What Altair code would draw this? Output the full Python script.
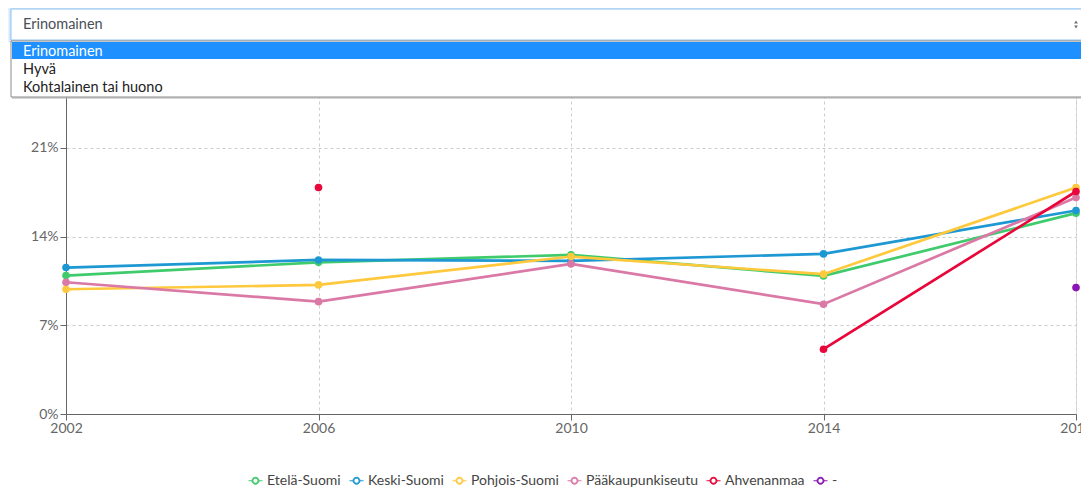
import altair as alt
import pandas as pd
import numpy as np

# ---- data (percent values) ----
years = [2002, 2006, 2010, 2014, 2018]
series_names = ["Etelä-Suomi", "Keski-Suomi", "Pohjois-Suomi", "Pääkaupunkiseutu", "Ahvenanmaa", "-"]
series_colors = ["#3fcb6c", "#1d98d3", "#ffc93d", "#db79a6", "#e8063a", "#8c16b5"]
etela = [10.92, 11.96, 12.55, 10.89, 15.84]
keski = [11.55, 12.15, 12.08, 12.63, 16.05]
pohjois = [9.84, 10.18, 12.42, 11.03, 17.86]
paakaupunkiseutu = [10.39, 8.86, 11.84, 8.66, 17.07]
ahvenanmaa = [None, 17.86, None, 5.11, 17.55]
viiva = [None, None, None, None, 9.97]
y_ticks = [0, 7, 14, 21, 28]

dropdown_selected = "Erinomainen"
dropdown_options = ["Erinomainen", "Hyvä", "Kohtalainen tai huono"]

all_series = [etela, keski, pohjois, paakaupunkiseutu, ahvenanmaa, viiva]
rows = []
for name, vals in zip(series_names, all_series):
    for yr, v in zip(years, vals):
        rows.append({"vuosi": yr, "alue": name, "piste": name,
                     "osuus": np.nan if v is None else v})
df = pd.DataFrame(rows)

FONT = "Lato"
W, H = 1010, 355

x_enc = alt.X("vuosi:Q", scale=alt.Scale(domain=[2002, 2018], nice=False, zero=False),
              axis=alt.Axis(values=years, format="d", title=None, grid=True,
                            gridDash=[3, 3], gridColor="#cccccc", tickSize=6,
                            labelPadding=1, labelFontSize=14, labelColor="#666666",
                            labelFont=FONT, domainColor="#666666", tickColor="#666666",
                            labelFlush=False))
y_enc = alt.Y("osuus:Q", scale=alt.Scale(domain=[0, 28], nice=False),
              axis=alt.Axis(values=y_ticks, labelExpr="datum.value + '%'", title=None,
                            grid=True, gridDash=[3, 3], gridColor="#cccccc", tickSize=6,
                            labelPadding=2, labelFontSize=14, labelColor="#666666",
                            labelFont=FONT, domainColor="#666666", tickColor="#666666"))

# legend icon: short line with a hollow ring (annulus) in the middle
legend_path = ("M-1,0H-0.5M0.5,0H1"
               "M-0.5,0A0.5,0.5,0,1,1,0.5,0A0.5,0.5,0,1,1,-0.5,0Z"
               "M-0.36,0A0.36,0.36,0,1,0,0.36,0A0.36,0.36,0,1,0,-0.36,0Z")

lines = alt.Chart(df).mark_line(strokeWidth=2.7).encode(
    x=x_enc, y=y_enc,
    color=alt.Color("alue:N", sort=series_names,
                    scale=alt.Scale(domain=series_names, range=series_colors),
                    legend=alt.Legend(title=None, orient="none", legendX=182, legendY=414,
                                      direction="horizontal", columns=6,
                                      symbolType=legend_path, symbolSize=196,
                                      symbolStrokeWidth=1.0, symbolFillColor="white",
                                      labelFont=FONT, labelFontSize=14, labelColor="#444444",
                                      labelOffset=4, columnPadding=6)),
    detail="alue:N",
)

points = alt.Chart(df).mark_point(filled=True, size=58, opacity=1, strokeWidth=0).encode(
    x="vuosi:Q", y="osuus:Q",
    fill=alt.Fill("piste:N", scale=alt.Scale(domain=series_names, range=series_colors),
                  legend=None),
)

one = pd.DataFrame({"k": [0]})

glow = alt.Chart(one).mark_rect(fill="white", stroke="#d3e8fb", strokeWidth=3).encode(
    x=alt.value(-56), x2=alt.value(1060), y=alt.value(-51), y2=alt.value(-18))
select_box = alt.Chart(one).mark_rect(fill="white", stroke="#8fc3f2", strokeWidth=1).encode(
    x=alt.value(-55), x2=alt.value(1060), y=alt.value(-50), y2=alt.value(-19))
select_text = alt.Chart(pd.DataFrame({"t": [dropdown_selected]})).mark_text(
    align="left", baseline="middle", font=FONT, fontSize=14.5, color="#495057").encode(
    x=alt.value(-43), y=alt.value(-34), text="t:N")
arrow_up = alt.Chart(one).mark_point(shape="triangle-up", filled=True, size=14,
                                     color="#333333").encode(x=alt.value(1010), y=alt.value(-37))
arrow_dn = alt.Chart(one).mark_point(shape="triangle-down", filled=True, size=14,
                                     color="#333333").encode(x=alt.value(1010), y=alt.value(-32))
list_shadow = alt.Chart(one).mark_rect(fill="#bbbbbb", opacity=0.6).encode(
    x=alt.value(-54), x2=alt.value(1060), y=alt.value(-17), y2=alt.value(40))
list_box = alt.Chart(one).mark_rect(fill="white", stroke="#8a8a8a", strokeWidth=1).encode(
    x=alt.value(-55), x2=alt.value(1060), y=alt.value(-18), y2=alt.value(38))
highlight = alt.Chart(one).mark_rect(fill="#1e90ff").encode(
    x=alt.value(-54), x2=alt.value(1060), y=alt.value(-17), y2=alt.value(0))

option_layers = []
for i, opt in enumerate(dropdown_options):
    option_layers.append(
        alt.Chart(pd.DataFrame({"t": [opt]})).mark_text(
            align="left", baseline="middle", font=FONT, fontSize=14.5,
            color="#ffffff" if opt == dropdown_selected else "#222222").encode(
            x=alt.value(-43), y=alt.value(-7 + 18 * i), text="t:N"))

chart = alt.layer(
    lines, points, glow, select_box, select_text, arrow_up, arrow_dn,
    list_shadow, list_box, highlight, *option_layers
).properties(
    width=W, height=H,
    autosize=alt.AutoSizeParams(type="none"),
    padding={"left": 58, "top": 51, "right": 5, "bottom": 78},
).configure_view(strokeWidth=0).configure(background="white")

chart.save("out.html", embed_options={"renderer": "svg", "actions": False})
